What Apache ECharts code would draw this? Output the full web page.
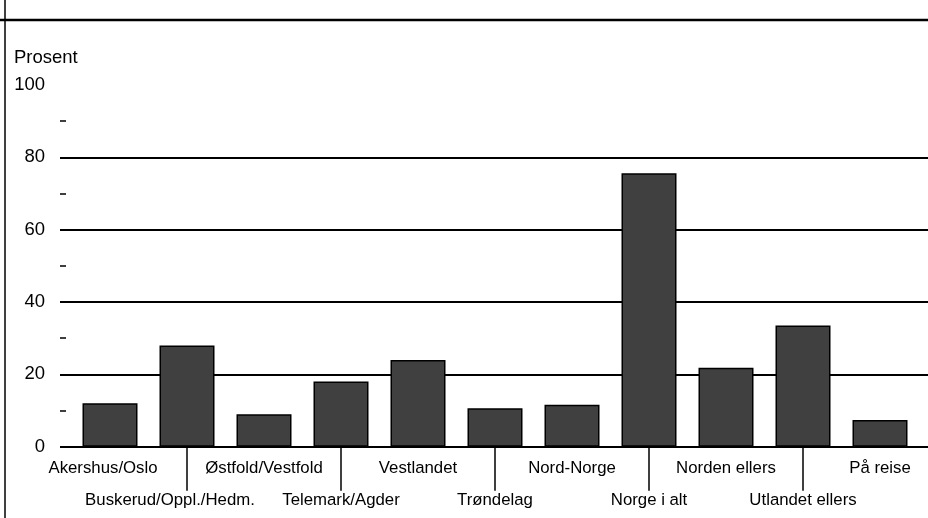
<!DOCTYPE html>
<html>
<head>
<meta charset="utf-8">
<script src="https://cdn.jsdelivr.net/npm/echarts@6/dist/echarts.min.js"></script>
<style>
html,body{margin:0;padding:0;background:#fff;}
#chart{width:928px;height:518px;}
</style>
</head>
<body>
<div id="chart"></div>
<script>
const categories = ['Akershus/Oslo','Buskerud/Oppl./Hedm.','Østfold/Vestfold','Telemark/Agder','Vestlandet','Trøndelag','Nord-Norge','Norge i alt','Norden ellers','Utlandet ellers','På reise'];
const values = [12, 28, 9, 18, 24, 10.6, 11.6, 75.6, 21.8, 33.5, 7.4];
const yTicks = [0, 20, 40, 60, 80, 100];
const yTitle = 'Prosent';

const fam = 'Liberation Sans', catSize = 16.8, ySize = 18.5;

const chart = echarts.init(document.getElementById('chart'), null, {renderer:'canvas'});
const gridTop = 85, gridBottom = 518 - 446.7;
chart.setOption({
  animation: false,
  backgroundColor: '#fff',
  graphic: [
    {type:'line', shape:{x1:0, y1:20, x2:928, y2:20}, style:{stroke:'#000', lineWidth:2.5}},
    {type:'line', shape:{x1:5, y1:0, x2:5, y2:518}, style:{stroke:'#000', lineWidth:1.5}},
    {type:'text', left: 14, top: 48, style:{text: yTitle, font: ySize + 'px "' + fam + '"', fill:'#000'}}
  ],
  grid: [
    {left: 60, right: 0, top: gridTop, bottom: gridBottom},
    {left: 71.5, right: 9.5, top: gridTop, bottom: gridBottom}
  ],
  xAxis: [
    {gridIndex: 0, type: 'value', show: false, min: 0, max: 1},
    {gridIndex: 1, type: 'category', data: categories,
     axisLine: {show: false},
     axisTick: {show: true, alignWithLabel: true, length: 44,
       interval: function(i){ return i % 2 === 1; },
       lineStyle: {color:'#000', width: 1.5}},
     axisLabel: {interval: 0, margin: 6, color:'#000', fontFamily: fam, fontSize: catSize, lineHeight: 32,
       formatter: function(v, i){
         if (i === 0) return '{s|' + v + '}';
         if (i === 1) return '\n{c|' + v + '}';
         return (i % 2 === 1 ? '\n' : '') + v;
       },
       rich: {
         s: {fontFamily: fam, fontSize: catSize, lineHeight: 32, padding:[0,14,0,0], color:'#000'},
         c: {fontFamily: fam, fontSize: catSize, lineHeight: 32, padding:[0,34,0,0], color:'#000'}
       }}
    }
  ],
  yAxis: [
    {gridIndex: 0, type: 'value', min: yTicks[0], max: yTicks[yTicks.length-1], interval: 20,
     axisLine: {show: false},
     axisTick: {show: false, inside: true},
     minorTick: {show: true, splitNumber: 2, length: 6, lineStyle: {color:'#000', width: 1.5}},
     splitLine: {show: true, lineStyle: {color: ['#000','#000','#000','#000','#000','rgba(0,0,0,0)'], width: 1.8}},
     axisLabel: {margin: 15, color:'#000', fontFamily: fam, fontSize: ySize}
    },
    {gridIndex: 1, type: 'value', min: 0, max: 100, show: false}
  ],
  series: [{
    type: 'bar', xAxisIndex: 1, yAxisIndex: 1, data: values, barWidth: 55,
    itemStyle: {color: '#404040', borderColor: '#000', borderWidth: 1.5},
    z: 3
  }]
});
</script>
</body>
</html>
